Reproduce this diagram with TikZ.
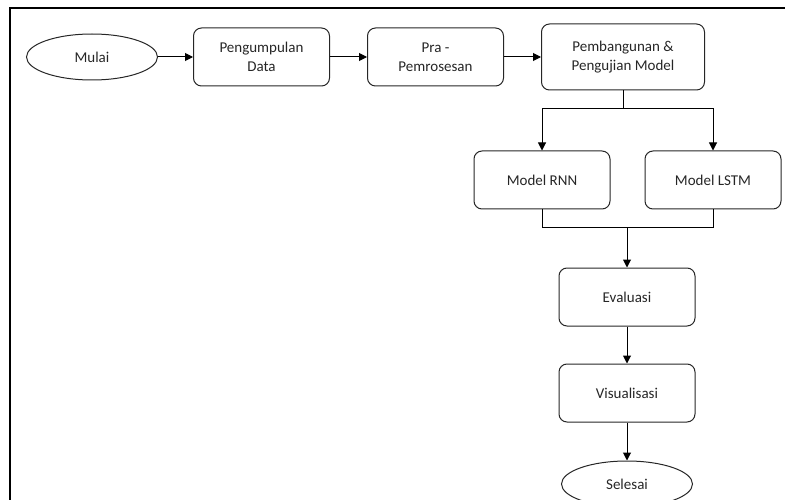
\documentclass[tikz,border=0pt]{standalone}
\usepackage{fontspec}
\setmainfont{Carlito}
\usetikzlibrary{arrows.meta}
\usetikzlibrary{positioning}
\usetikzlibrary{shapes.geometric}
\usetikzlibrary{calc}

\tikzset{
  proses/.style={draw=black!85, rounded corners=8pt, line width=1pt,
    minimum width=136pt, minimum height=58pt, align=center,
    text=black!85, font=\fontsize{15}{19}\selectfont},
  terminal/.style={draw=black!85, ellipse, line width=1pt,
    minimum width=131pt, minimum height=46pt,
    text=black!85, font=\fontsize{15}{19}\selectfont},
  panah/.style={-{Triangle[length=8pt,width=8pt]}, line width=1pt},
  garis/.style={line width=1pt},
}

\begin{document}
\begin{tikzpicture}[x=1pt,y=1pt]
    \useasboundingbox (0,0) rectangle (785,-500);
    \draw[line width=2pt] (10,-500) -- (10,-8) -- (785,-8); % bingkai

    \node[terminal] (mulai) at (92,-57) {Mulai};
    \node[proses, right=35pt of mulai] (kumpul) {Pengumpulan\\Data};
    \node[proses, right=37pt of kumpul] (pra) {Pra -\\Pemrosesan};
    \node[proses, right=37pt of pra, minimum width=163pt, minimum height=66pt] (bangun) {Pembangunan \&\\Pengujian Model};

    \coordinate[below=18pt of bangun.south] (cabang);
    \node[proses, below=60pt of bangun, xshift=-81pt] (rnn) {Model RNN};
    \node[proses, below=60pt of bangun, xshift=90pt] (lstm) {Model LSTM};

    \coordinate[below=18pt of rnn.south] (kiri);
    \coordinate (gabung) at ($(kiri)+(85,0)$);
    \node[proses, below=40pt of gabung] (evaluasi) {Evaluasi};
    \node[proses, below=37pt of evaluasi] (visual) {Visualisasi};
    \node[terminal, below=38pt of visual] (selesai) {Selesai};

    \draw[panah] (mulai) -- (kumpul);
    \draw[panah] (kumpul) -- (pra);
    \draw[panah] (pra) -- (bangun);
    \draw[garis] (bangun.south) -- (cabang);
    \draw[panah] (cabang) -| (rnn.north);
    \draw[panah] (cabang) -| (lstm.north);
    \draw[garis] (rnn.south) -- (kiri) -| (lstm.south);
    \draw[panah] (gabung) -- (evaluasi);
    \draw[panah] (evaluasi) -- (visual);
    \draw[panah] (visual) -- (selesai);
\end{tikzpicture}
\end{document}
